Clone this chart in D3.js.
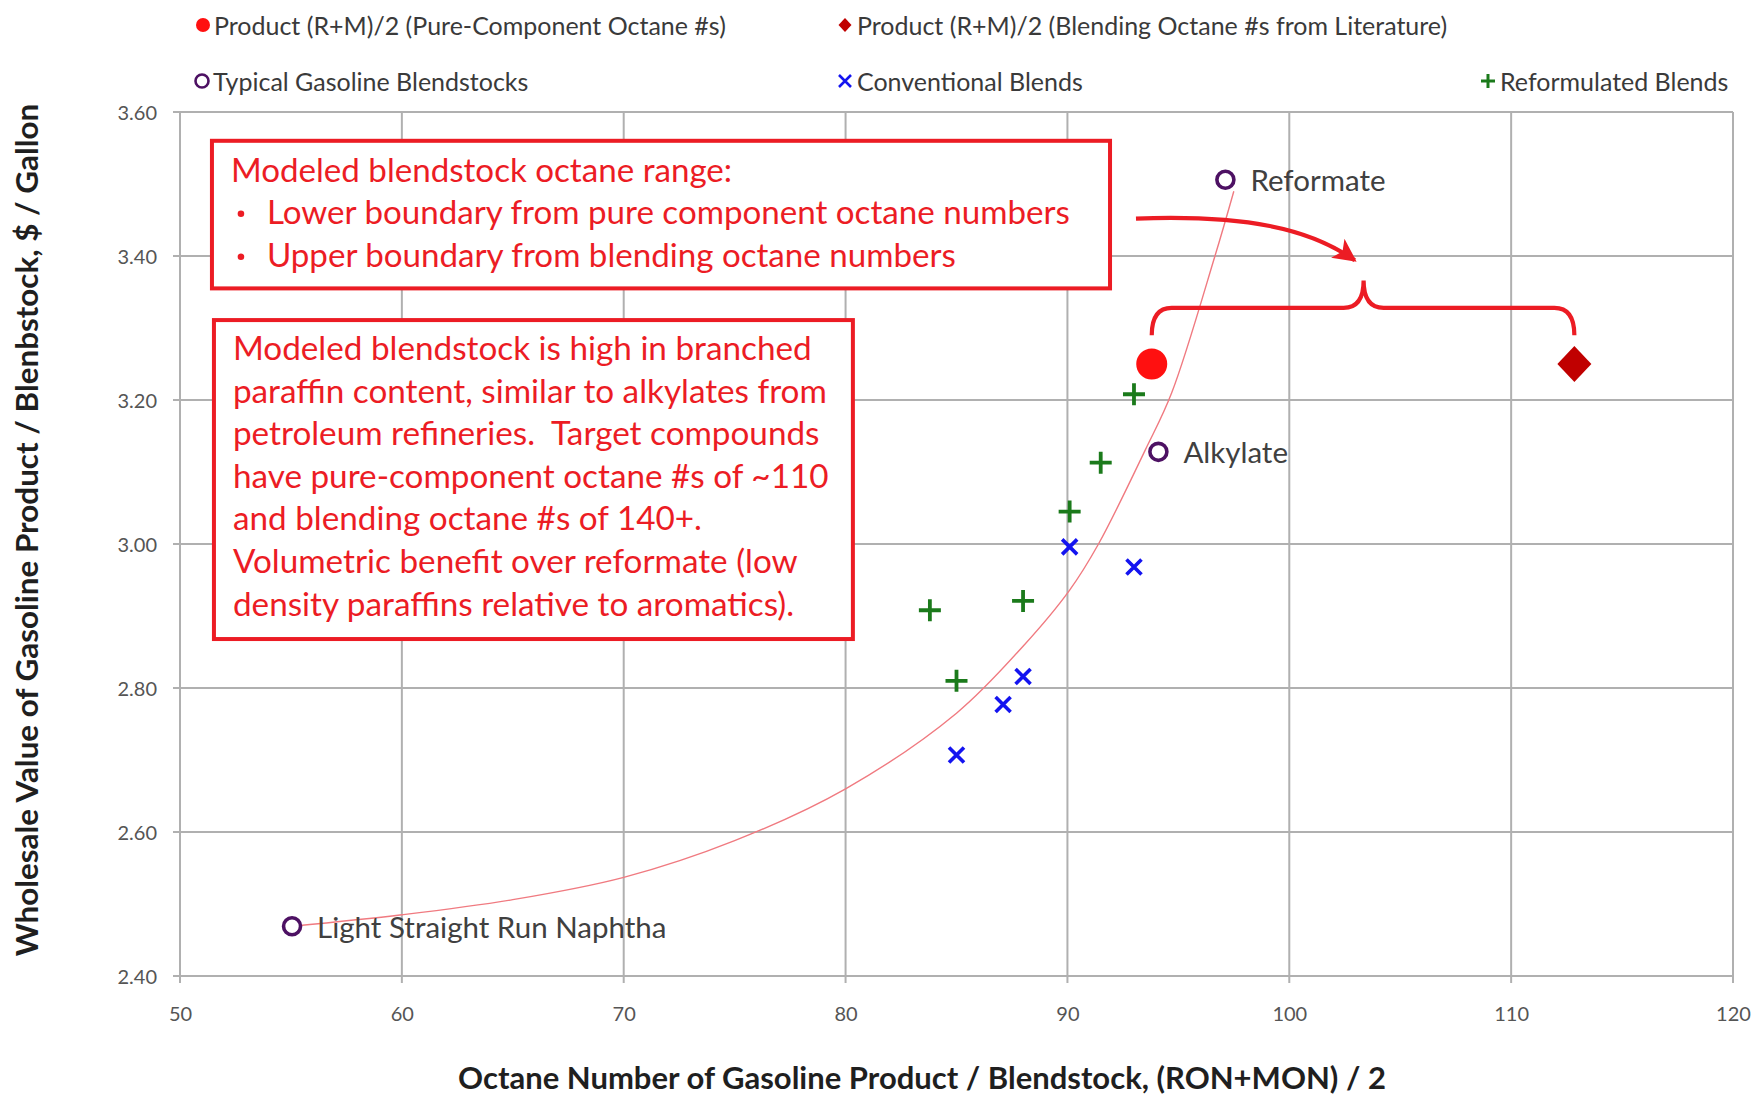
<!DOCTYPE html>
<html>
<head>
<meta charset="utf-8">
<script src="https://cdn.jsdelivr.net/npm/d3@7/dist/d3.min.js"></script>
<style>
  html, body { margin: 0; padding: 0; background: #ffffff; }
  svg { display: block; }
  text { font-family: Lato, "Open Sans", "DejaVu Sans", sans-serif; white-space: pre; }
</style>
</head>
<body>
<svg id="chart" width="1758" height="1099"></svg>
<script>
// ---------------- data ----------------
const xTicks = [50, 60, 70, 80, 90, 100, 110, 120];
const yTicks = [2.40, 2.60, 2.80, 3.00, 3.20, 3.40, 3.60];

const blendstockNames  = ["Light Straight Run Naphtha", "Alkylate", "Reformate"];
const blendstockOctane = [55.05, 94.10, 97.12];
const blendstockValue  = [2.469, 3.128, 3.506];

const conventionalOctane = [85.0, 87.1, 88.0, 90.1, 93.0];
const conventionalValue  = [2.707, 2.777, 2.816, 2.996, 2.968];

const reformulatedOctane = [83.8, 85.0, 88.0, 90.1, 91.5, 93.0];
const reformulatedValue  = [2.908, 2.810, 2.921, 3.045, 3.113, 3.208];

const purePointOctane = [93.8];
const purePointValue  = [3.25];
const blendPointOctane = [112.85];
const blendPointValue  = [3.25];

// trend curve
const trendOctane = [55.05, 60, 65, 70, 75, 80, 85, 88, 90.1, 91.4, 93.5, 94.7, 96.65, 97.5];
const trendValue  = [2.469, 2.485, 2.506, 2.537, 2.588, 2.660, 2.765, 2.858, 2.936, 3.000, 3.130, 3.210, 3.400, 3.490];

const legendLabels = [
  "Product (R+M)/2 (Pure-Component Octane #s)",
  "Product (R+M)/2 (Blending Octane #s from Literature)",
  "Typical Gasoline Blendstocks",
  "Conventional Blends",
  "Reformulated Blends"
];
const box1Lines = [
  "Modeled blendstock octane range:",
  "Lower boundary from pure component octane numbers",
  "Upper boundary from blending octane numbers"
];
const box2Lines = [
  "Modeled blendstock is high in branched",
  "paraffin content, similar to alkylates from",
  "petroleum refineries.  Target compounds",
  "have pure-component octane #s of ~110",
  "and blending octane #s of 140+.",
  "Volumetric benefit over reformate (low",
  "density paraffins relative to aromatics)."
];
const xTitle = "Octane Number of Gasoline Product / Blendstock, (RON+MON) / 2";
const yTitle = "Wholesale Value of Gasoline Product / Blenbstock, $ / Gallon";

// ---------------- layout ----------------
const svg = d3.select("#chart");
const plot = { left: 180, right: 1733, top: 112, bottom: 976 };
const x = d3.scaleLinear().domain([50, 120]).range([plot.left, plot.right]);
const y = d3.scaleLinear().domain([2.40, 3.60]).range([plot.bottom, plot.top]);

const RED = "#ec1c24";
const DARKRED = "#c00000";
const PURPLE = "#4d1163";
const BLUE = "#1414f0";
const GREEN = "#1b7a1b";
const GRID = "#b0b0b0";
const TICKTXT = "#555555";

function fitFont(sel, target, base) {
  sel.style("font-size", base + "px");
  const w = sel.node().getComputedTextLength();
  const s = base * target / w;
  sel.style("font-size", s + "px");
  return s;
}

// grid
const g = svg.append("g");
g.selectAll("line.vg").data(xTicks).join("line")
  .attr("x1", d => x(d)).attr("x2", d => x(d))
  .attr("y1", plot.top).attr("y2", plot.bottom + 7)
  .attr("stroke", GRID).attr("stroke-width", 2);
g.selectAll("line.hg").data(yTicks).join("line")
  .attr("x1", plot.left - 7).attr("x2", plot.right)
  .attr("y1", d => y(d)).attr("y2", d => y(d))
  .attr("stroke", GRID).attr("stroke-width", 2);

// axes labels via d3 axes
const xAxis = svg.append("g")
  .attr("transform", `translate(0,${plot.bottom})`)
  .call(d3.axisBottom(x).tickValues(xTicks).tickSize(0).tickPadding(31).tickFormat(d3.format("d")));
const yAxis = svg.append("g")
  .attr("transform", `translate(${plot.left},0)`)
  .call(d3.axisLeft(y).tickValues(yTicks).tickSize(0).tickPadding(23).tickFormat(d3.format(".2f")));
[xAxis, yAxis].forEach(a => {
  a.select(".domain").remove();
  a.selectAll("text").attr("fill", TICKTXT)
    .style("font-family", "Lato, 'Open Sans', sans-serif").style("font-size", "20px");
});
yAxis.selectAll("text").attr("dy", "0.35em");

// axis titles
const xt = svg.append("text").attr("x", 922).attr("y", 1077)
  .attr("text-anchor", "middle").attr("dominant-baseline", "central")
  .attr("fill", "#1f1f1f").style("font-weight", "bold").text(xTitle);
fitFont(xt, 928, 26);
const yt = svg.append("text")
  .attr("transform", "translate(26,530) rotate(-90)")
  .attr("text-anchor", "middle").attr("dominant-baseline", "central")
  .attr("fill", "#1f1f1f").style("font-weight", "bold").text(yTitle);
fitFont(yt, 853, 24);

// trend curve
const trend = trendOctane.map((o, i) => [o, trendValue[i]]);
svg.append("path")
  .attr("d", d3.line().x(d => x(d[0])).y(d => y(d[1])).curve(d3.curveCatmullRom.alpha(0.5))(trend))
  .attr("fill", "none").attr("stroke", "#f07a80").attr("stroke-width", 1.4);

// markers
const xShape = (s) => `M${-s},${-s}L${s},${s}M${-s},${s}L${s},${-s}`;
const plusShape = (s) => `M${-s},0L${s},0M0,${-s}L0,${s}`;

svg.append("g").selectAll("path").data(conventionalOctane.map((o, i) => [o, conventionalValue[i]])).join("path")
  .attr("transform", d => `translate(${x(d[0])},${y(d[1])})`)
  .attr("d", xShape(7.5)).attr("stroke", BLUE).attr("stroke-width", 3.6).attr("fill", "none");

svg.append("g").selectAll("path").data(reformulatedOctane.map((o, i) => [o, reformulatedValue[i]])).join("path")
  .attr("transform", d => `translate(${x(d[0])},${y(d[1])})`)
  .attr("d", plusShape(11)).attr("stroke", GREEN).attr("stroke-width", 3.8).attr("fill", "none");

svg.append("g").selectAll("circle").data(blendstockOctane.map((o, i) => [o, blendstockValue[i]])).join("circle")
  .attr("cx", d => x(d[0])).attr("cy", d => y(d[1])).attr("r", 8.5)
  .attr("fill", "#ffffff").attr("stroke", PURPLE).attr("stroke-width", 3.6);

svg.append("g").selectAll("text").data(blendstockNames.map((n, i) => [n, blendstockOctane[i], blendstockValue[i]])).join("text")
  .attr("x", d => x(d[1]) + 25).attr("y", d => y(d[2]))
  .attr("dominant-baseline", "central").attr("fill", "#404040")
  .style("font-size", "29.5px").text(d => d[0]);

svg.append("g").selectAll("circle").data(purePointOctane.map((o, i) => [o, purePointValue[i]])).join("circle")
  .attr("cx", d => x(d[0])).attr("cy", d => y(d[1])).attr("r", 15.5).attr("fill", "#ff1010");

svg.append("g").selectAll("path").data(blendPointOctane.map((o, i) => [o, blendPointValue[i]])).join("path")
  .attr("transform", d => `translate(${x(d[0])},${y(d[1])})`)
  .attr("d", "M0,-18L17,0L0,18L-17,0Z").attr("fill", DARKRED);

// ---------------- annotations ----------------
// box 1
const b1 = { x0: x(51.44), x1: x(91.92), y0: y(3.560), y1: y(3.355) };
svg.append("rect").attr("x", b1.x0).attr("y", b1.y0)
  .attr("width", b1.x1 - b1.x0).attr("height", b1.y1 - b1.y0)
  .attr("fill", "#ffffff").attr("stroke", RED).attr("stroke-width", 4);
const b1t = svg.append("g");
const l1 = b1t.append("text").attr("x", b1.x0 + 19).attr("y", b1.y0 + 41).attr("fill", RED).text(box1Lines[0]);
const l2 = b1t.append("text").attr("x", b1.x0 + 55).attr("y", b1.y0 + 83).attr("fill", RED).text(box1Lines[1]);
const fs1 = fitFont(l2, 803, 28);
l1.style("font-size", fs1 + "px");
const l3 = b1t.append("text").attr("x", b1.x0 + 55).attr("y", b1.y0 + 126).attr("fill", RED)
  .style("font-size", fs1 + "px").text(box1Lines[2]);
[83, 126].forEach(dy => b1t.append("circle").attr("cx", b1.x0 + 29).attr("cy", b1.y0 + dy - 10)
  .attr("r", 3.3).attr("fill", RED));

// box 2
const b2 = { x0: x(51.53), x1: x(80.33), y0: y(3.311), y1: y(2.868) };
svg.append("rect").attr("x", b2.x0).attr("y", b2.y0)
  .attr("width", b2.x1 - b2.x0).attr("height", b2.y1 - b2.y0)
  .attr("fill", "#ffffff").attr("stroke", RED).attr("stroke-width", 4);
const b2t = svg.append("g").selectAll("text").data(box2Lines).join("text")
  .attr("x", b2.x0 + 19).attr("y", (d, i) => b2.y0 + 40 + i * 42.6)
  .attr("fill", RED).text(d => d);
const fs2 = fitFont(b2t.filter((d, i) => i === 1), 594, 28);
b2t.style("font-size", fs2 + "px");

// curved arrow
svg.append("defs").append("marker")
  .attr("id", "ah").attr("viewBox", "0 0 10 10").attr("refX", 9).attr("refY", 5)
  .attr("markerWidth", 6.5).attr("markerHeight", 5.5).attr("markerUnits", "strokeWidth")
  .attr("orient", "auto")
  .append("path").attr("d", "M0,0L10,5L0,10L2.5,5Z").attr("fill", RED);
const a0 = [x(93.09), y(3.452)], a1 = [x(102.95), y(3.394)];
svg.append("path")
  .attr("d", `M${a0[0]},${a0[1]} C${a0[0] + 110},${a0[1] - 4} ${a1[0] - 45},${a1[1] - 32} ${a1[0]},${a1[1]}`)
  .attr("fill", "none").attr("stroke", RED).attr("stroke-width", 4.2)
  .attr("marker-end", "url(#ah)");

// curly brace between the two product points
const bl = x(purePointOctane[0]), br = x(blendPointOctane[0]);
const bm = x(103.35);
const yEnd = y(3.290), yMid = y(3.328), yTip = y(3.366);
const r = 20;
svg.append("path")
  .attr("d", `M${bl},${yEnd} Q${bl},${yMid} ${bl + r},${yMid} L${bm - r},${yMid} Q${bm},${yMid} ${bm},${yTip} Q${bm},${yMid} ${bm + r},${yMid} L${br - r},${yMid} Q${br},${yMid} ${br},${yEnd}`)
  .attr("fill", "none").attr("stroke", RED).attr("stroke-width", 4.2);

// ---------------- legend ----------------
const leg = svg.append("g");
const legTextX = [214, 857, 213, 857, 1500];
const legY = [25, 25, 81, 81, 81];
const legTexts = leg.selectAll("text").data(legendLabels).join("text")
  .attr("x", (d, i) => legTextX[i]).attr("y", (d, i) => legY[i])
  .attr("dominant-baseline", "central").attr("fill", "#3a3a3a").text(d => d);
const lfs = fitFont(legTexts.filter((d, i) => i === 0), 512, 22);
legTexts.style("font-size", lfs + "px");
leg.append("circle").attr("cx", 203).attr("cy", 25).attr("r", 7).attr("fill", "#ff1010");
leg.append("path").attr("transform", "translate(845,25)").attr("d", "M0,-7L6.5,0L0,7L-6.5,0Z").attr("fill", DARKRED);
leg.append("circle").attr("cx", 202).attr("cy", 81).attr("r", 6.5).attr("fill", "#fff").attr("stroke", PURPLE).attr("stroke-width", 2.6);
leg.append("path").attr("transform", "translate(845,81)").attr("d", xShape(6)).attr("stroke", BLUE).attr("stroke-width", 2.6);
leg.append("path").attr("transform", "translate(1488,81)").attr("d", plusShape(7)).attr("stroke", GREEN).attr("stroke-width", 3);
</script>
</body>
</html>
